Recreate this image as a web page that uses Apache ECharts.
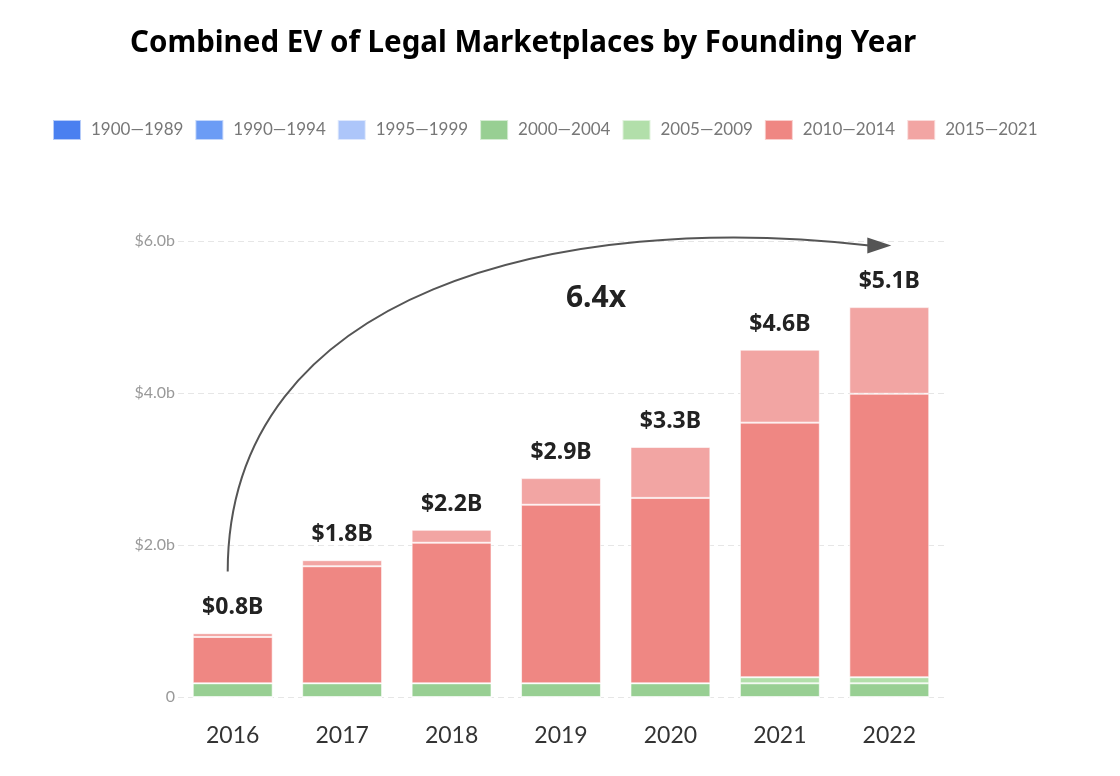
<!DOCTYPE html>
<html>
<head>
<meta charset="utf-8">
<script src="https://cdn.jsdelivr.net/npm/echarts@6/dist/echarts.min.js"></script>
<style>
html,body{margin:0;padding:0;background:#fff;}
#main{width:1120px;height:776px;}
</style>
</head>
<body>
<div id="main"></div>
<script>
const years = ['2016','2017','2018','2019','2020','2021','2022'];
const seriesNames = ['1900—1989','1990—1994','1995—1999','2000—2004','2005—2009','2010—2014','2015—2021'];
const s1900_1989 = [0, 0, 0, 0, 0, 0, 0];
const s1990_1994 = [0, 0, 0, 0, 0, 0, 0];
const s1995_1999 = [0, 0, 0, 0, 0, 0, 0];
const s2000_2004 = [0.18, 0.18, 0.18, 0.18, 0.18, 0.18, 0.18];
const s2005_2009 = [0, 0, 0, 0, 0, 0.08, 0.08];
const s2010_2014 = [0.61, 1.54, 1.85, 2.35, 2.44, 3.35, 3.73];
const s2015_2021 = [0.05, 0.08, 0.17, 0.35, 0.67, 0.96, 1.14];
const yTicks = [0, 2, 4, 6];
const colors = ['#4a80f0','#6c9cf5','#adc6fa','#98cf93','#b2dfaa','#ef8783','#f2a5a3'];

const allData = [s1900_1989, s1990_1994, s1995_1999, s2000_2004, s2005_2009, s2010_2014, s2015_2021];
const totals = years.map((_, i) => allData.reduce((a, s) => a + s[i], 0));

const chart = echarts.init(document.getElementById('main'));
const FONT = 'Lato';
const BOLD = 'Noto Sans';

const series = seriesNames.map((name, k) => ({
  name: name,
  type: 'bar',
  stack: 'total',
  barWidth: '73%',
  data: allData[k],
  itemStyle: { color: colors[k], borderColor: 'rgba(255,255,255,0.6)', borderWidth: 1 },
  emphasis: { disabled: true },
  label: k === seriesNames.length - 1 ? {
    show: true,
    position: 'top',
    distance: 14,
    formatter: p => '$' + totals[p.dataIndex].toFixed(1) + 'B',
    fontFamily: BOLD,
    fontWeight: 'bold',
    fontSize: 23,
    color: '#222'
  } : { show: false }
}));

chart.setOption({
  animation: false,
  color: colors,
  title: {
    text: 'Combined EV of Legal Marketplaces by Founding Year',
    left: 125,
    top: 24,
    textStyle: { fontFamily: BOLD, fontWeight: 'bold', fontSize: 29.5, color: '#000' }
  },
  legend: {
    left: 47,
    top: 114,
    itemWidth: 28,
    itemHeight: 20,
    itemGap: 11,
    icon: 'rect',
    data: seriesNames,
    textStyle: { fontFamily: FONT, fontSize: 17, color: '#777', padding: [0, 0, 0, 5] }
  },
  grid: { left: 178, right: 176, top: 241, bottom: 79, containLabel: false },
  xAxis: {
    type: 'category',
    data: years,
    axisLine: { show: false },
    axisTick: { show: false },
    axisLabel: { fontFamily: FONT, fontSize: 23, color: '#333', margin: 27 }
  },
  yAxis: {
    type: 'value',
    min: 0,
    max: 6,
    interval: 2,
    axisLine: { show: false },
    axisTick: { show: false },
    axisLabel: {
      fontFamily: FONT, fontSize: 16, color: '#999', margin: 3,
      formatter: v => v === 0 ? '0' : '$' + v.toFixed(1) + 'b'
    },
    splitLine: { lineStyle: { color: '#e6e6e6', type: [6, 4], width: 1 } }
  },
  series: series
});

function px(cat, val) { return chart.convertToPixel({ xAxisIndex: 0, yAxisIndex: 0 }, [cat, val]); }
const p0 = px('2016', 1.65); p0[0] -= 5;
const p3 = px('2022', 5.94); p3[0] -= 20;
const p1 = [p0[0], px('2016', 5.36)[1]];
const p2 = [p0[0] + (p3[0] - p0[0] + 20) * 0.505, px('2016', 6.41)[1]];
const tip = [p3[0] + 22, p3[1]];
const mid = px('2019', 5.25);

chart.setOption({
  graphic: [
    {
      type: 'bezierCurve',
      shape: { x1: p0[0], y1: p0[1], cpx1: p1[0], cpy1: p1[1], cpx2: p2[0], cpy2: p2[1], x2: p3[0], y2: p3[1] },
      style: { stroke: '#555', lineWidth: 2, fill: null },
      silent: true
    },
    {
      type: 'polygon',
      shape: { points: [[tip[0], tip[1]], [p3[0] - 2, p3[1] - 8], [p3[0] - 2, p3[1] + 8]] },
      style: { fill: '#555' },
      silent: true
    },
    {
      type: 'text',
      x: mid[0] + 35,
      y: mid[1],
      style: { text: '6.4x', fontFamily: BOLD, fontWeight: 'bold', fontSize: 30, fill: '#222', align: 'center', verticalAlign: 'middle' },
      silent: true
    }
  ]
});
</script>
</body>
</html>
